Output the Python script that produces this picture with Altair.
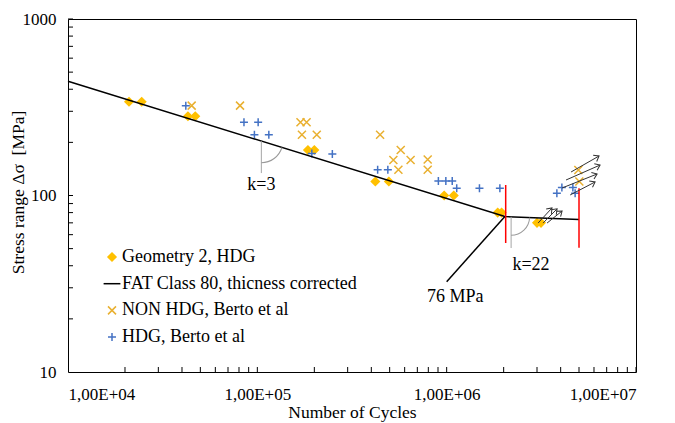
import math
import altair as alt
import pandas as pd

# ---- test results: number of cycles / stress range [MPa] ----
geo_cycles = [2.1e4, 2.45e4, 4.3e4, 4.7e4, 1.85e5, 2.0e5, 4.2e5, 4.95e5,
              9.7e5, 1.09e6, 1.86e6, 1.95e6, 3.0e6, 3.15e6]
geo_stress = [340, 340, 281, 281, 181, 181, 120, 120, 100, 100, 80, 80, 70, 70]

non_cycles = [4.5e4, 8.1e4, 1.69e5, 1.82e5, 1.72e5, 2.06e5, 4.45e5, 5.23e5,
              5.72e5, 6.45e5, 5.56e5, 7.94e5, 7.94e5, 4.96e6, 5.02e6]
non_stress = [323, 323, 260, 260, 221, 221, 221, 159, 181, 159, 140, 160, 140, 139.5, 120]

hdg_cycles = [4.19e4, 8.5e4, 1.01e5, 9.65e4, 1.15e5, 1.94e5, 2.49e5, 4.32e5, 4.89e5,
              9.04e5, 9.9e5, 1.07e6, 1.13e6, 1.49e6, 1.91e6, 3.82e6, 4.06e6, 4.64e6, 4.77e6]
hdg_stress = [323, 260, 260, 221, 221, 173, 172, 140, 140, 121, 121, 121, 110, 110, 110,
              103, 111, 111, 103]

# FAT 80 design curve (thickness corrected), knee at 2e6 cycles / 76 MPa
fat_cycles = [1e4, 2.03e6, 5e6]
fat_stress = [444, 76, 73]

# run-out arrows (tail -> head)
arrow_n1 = [4.54e6, 4.27e6, 4.07e6, 4.49e6, 3.04e6, 3.23e6, 3.39e6]
arrow_s1 = [135.9, 122.4, 110.3, 100.7, 69.8, 69.8, 69.8]
arrow_n2 = [6.38e6, 6.46e6, 6.23e6, 6.08e6, 3.60e6, 3.83e6, 4.07e6]
arrow_s2 = [167.4, 148.8, 132.4, 119.3, 85.0, 84.0, 81.7]

# red limit markers
limit_cycles = [2.05e6, 5.0e6]
limit_low = [53.8, 50.5]
limit_high = [114.7, 110.0]

# slope indicators
slope_cycles = [1.05e5, 2.19e6]
slope_top = [203, 75.7]
slope_bottom = [134, 50.4]
slope_theta = [math.radians(107), math.radians(92.4)]
slope_radius = [22, 19]

# annotation texts
note_text = ["k=3", "k=22", "76 MPa"]
note_cycles = [1.05e5, 2.79e6, 1.11e6]
note_stress = [114.7, 40.4, 26.6]

# leader line to the knee
leader_n = [1.0e6]
leader_s = [32.5]
leader_n2 = [2.03e6]
leader_s2 = [76]

x_tick_values = [1e4, 1e5, 1e6, 1e7]
x_tick_labels = ["1,00E+04", "1,00E+05", "1,00E+06", "1,00E+07"]
y_tick_values = [10, 100, 1000]

series_names = ["Geometry 2, HDG", "FAT Class 80, thicness corrected",
                "NON HDG, Berto et al", "HDG, Berto et al"]
series_colors = ["#FFC000", "#000000", "#E9B030", "#4472C4"]
series_fills = ["#FFC000", "transparent", "transparent", "transparent"]
DIAMOND = "M0,-1L1,0L0,1L-1,0Z"
DASH = "M-2.1,0L2.1,0"
XMARK = "M-1,-1L1,1M-1,1L1,-1"
PLUS = "M-1,0L1,0M0,-1L0,1"
series_shapes = [DIAMOND, DASH, XMARK, PLUS]

W, H = 568, 353
FONT = "Liberation Serif"

x_scale = alt.Scale(type="log", domain=[1e4, 1e7], nice=False)
y_scale = alt.Scale(type="log", domain=[10, 1000], nice=False)

label_expr = " : ".join(
    f"datum.value == {v:.0f} ? '{t}'" for v, t in zip(x_tick_values, x_tick_labels)
) + " : ''"

x_axis = alt.Axis(values=x_tick_values, labelExpr=label_expr, ticks=False, tickSize=0,
                  domain=False, grid=False, labelFont=FONT, labelFontSize=17,
                  labelColor="black", labelPadding=14, title="Number of Cycles",
                  titleFont=FONT, titleFontSize=17.5, titleFontWeight="normal",
                  titleColor="black", titleY=40, titleBaseline="middle")
y_axis = alt.Axis(values=y_tick_values, format="d", ticks=False, tickSize=0,
                  domain=False, grid=False, labelFont=FONT, labelFontSize=17,
                  labelColor="black", labelPadding=12,
                  title="Stress range \u0394\u03c3 \u00a0[MPa]", titleFont=FONT,
                  titleFontSize=17.5, titleFontWeight="normal", titleColor="black",
                  titleX=-50, titleY=173, titleAngle=270, titleBaseline="middle",
                  titleAlign="center")


def X(field):
    return alt.X(f"{field}:Q", scale=x_scale, axis=x_axis)


def Y(field):
    return alt.Y(f"{field}:Q", scale=y_scale, axis=y_axis)


points = pd.DataFrame({
    "cycles": geo_cycles + non_cycles + hdg_cycles,
    "stress": geo_stress + non_stress + hdg_stress,
    "series": [series_names[0]] * len(geo_cycles) + [series_names[2]] * len(non_cycles)
              + [series_names[3]] * len(hdg_cycles),
})

legend = alt.Legend(title=None, orient="none", legendX=35, legendY=229, padding=0,
                    labelFont=FONT, labelFontSize=18, labelColor="black", labelOffset=1,
                    labelLimit=500, symbolSize=64, symbolStrokeWidth=1.5, rowPadding=8.7)

scatter = alt.Chart(points).mark_point(filled=False, size=64, strokeWidth=1.5, opacity=1).encode(
    x=X("cycles"),
    y=Y("stress"),
    shape=alt.Shape("series:N", scale=alt.Scale(domain=series_names, range=series_shapes),
                    legend=legend),
    stroke=alt.Stroke("series:N", scale=alt.Scale(domain=series_names, range=series_colors),
                      legend=legend),
    fill=alt.Fill("series:N", scale=alt.Scale(domain=series_names, range=series_fills),
                  legend=legend),
)

fat = alt.Chart(pd.DataFrame({"cycles": fat_cycles, "stress": fat_stress})).mark_line(
    color="black", strokeWidth=1.5).encode(x=X("cycles"), y=Y("stress"))

# inward minor/major ticks
x_ticks = [m * 10 ** e for e in range(4, 7) for m in range(1, 10)][1:] + [1e7]
y_ticks = [m * 10 ** e for e in range(1, 3) for m in range(1, 10)][1:] + [1000]
xt = alt.Chart(pd.DataFrame({"cycles": x_ticks})).mark_rule(color="black", strokeWidth=1).encode(
    x=X("cycles"), y=alt.value(H), y2=alt.value(H - 5))
yt = alt.Chart(pd.DataFrame({"stress": y_ticks})).mark_rule(color="black", strokeWidth=1).encode(
    y=Y("stress"), x=alt.value(0), x2=alt.value(5))

limits = alt.Chart(pd.DataFrame({"cycles": limit_cycles, "lo": limit_low, "hi": limit_high})).mark_rule(
    color="#FF0000", strokeWidth=1.5).encode(x=X("cycles"), y=Y("lo"), y2="hi:Q")

slopes_df = pd.DataFrame({"cycles": slope_cycles, "top": slope_top, "bottom": slope_bottom,
                          "theta": slope_theta, "r": slope_radius,
                          "r_in": [r - 1 for r in slope_radius]})
slope_lines = alt.Chart(slopes_df).mark_rule(color="#A6A6A6", strokeWidth=1).encode(
    x=X("cycles"), y=Y("top"), y2="bottom:Q")
slope_arcs = alt.Chart(slopes_df).mark_arc(color="#9A9A9A").encode(
    x=X("cycles"),
    y=Y("top"),
    theta=alt.Theta("theta:Q", scale=None),
    theta2=alt.value(math.pi),
    radius=alt.Radius("r:Q", scale=None),
    radius2=alt.Radius2("r_in:Q"),
)

notes = alt.Chart(pd.DataFrame({"text": note_text, "cycles": note_cycles, "stress": note_stress})).mark_text(
    font=FONT, fontSize=18, color="black", align="center", baseline="middle").encode(
    x=X("cycles"), y=Y("stress"), text="text:N")

leader = alt.Chart(pd.DataFrame({"n": leader_n, "s": leader_s, "n2": leader_n2, "s2": leader_s2})).mark_rule(
    color="black", strokeWidth=1.5).encode(x=X("n"), y=Y("s"), x2="n2:Q", y2="s2:Q")

# arrows: shaft plus open head rotated along the shaft direction
px_dec_x, px_dec_y = W / 3, H / 2
angles = []
for a, b, c, d in zip(arrow_n1, arrow_s1, arrow_n2, arrow_s2):
    dx = px_dec_x * math.log10(c / a)
    dy = px_dec_y * math.log10(d / b)
    angles.append((360 - math.degrees(math.atan2(dy, dx))) % 360)
arrows_df = pd.DataFrame({"n": arrow_n1, "s": arrow_s1, "n2": arrow_n2, "s2": arrow_s2,
                          "angle": angles})
shafts = alt.Chart(arrows_df).mark_rule(color="#333333", strokeWidth=1).encode(
    x=X("n"), y=Y("s"), x2="n2:Q", y2="s2:Q")
heads = alt.Chart(arrows_df).mark_point(
    shape="M-1,-0.75L0,0L-1,0.75", filled=False, size=90, color="#333333", strokeWidth=1,
    opacity=1).encode(x=X("n2"), y=Y("s2"), angle=alt.Angle("angle:Q", scale=None))

chart = alt.layer(
    scatter, fat, xt, yt, limits, slope_lines, slope_arcs, notes, leader, shafts, heads
).properties(
    width=W, height=H, autosize="none", background="white",
    padding={"left": 68, "top": 19, "right": 39, "bottom": 51},
).configure_view(stroke="black", strokeWidth=1)

chart.save("out.html", embed_options={"renderer": "svg", "actions": False})
